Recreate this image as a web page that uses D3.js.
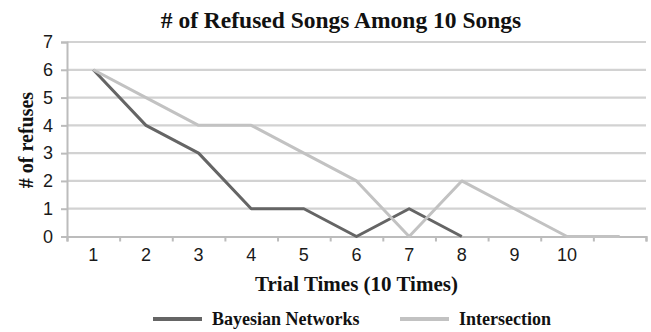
<!DOCTYPE html>
<html>
<head>
<meta charset="utf-8">
<script src="https://cdn.jsdelivr.net/npm/d3@7"></script>
<style>
  html, body { margin: 0; padding: 0; background: #fff; }
  svg { display: block; }
</style>
</head>
<body>
<svg id="chart" width="651" height="332"></svg>
<script>
// Trial categories (the last slot is an unlabeled trailing category)
const categories = ["1", "2", "3", "4", "5", "6", "7", "8", "9", "10", ""];
const yTicks = [0, 1, 2, 3, 4, 5, 6, 7];
const bayesian = [6, 4, 3, 1, 1, 0, 1, 0];
const intersection = [6, 5, 4, 4, 3, 2, 0, 2, 1, 0, 0];
const seriesNames = ["Bayesian Networks", "Intersection"];

const serif = "'Liberation Serif', 'Times New Roman', serif";
const sans = "'Liberation Sans', Arial, sans-serif";

const svg = d3.select("#chart");
const plotLeft = 67, plotRight = 646, plotTop = 42, plotBottom = 236.5;

const x = d3.scaleBand().domain(d3.range(categories.length)).range([plotLeft, plotRight]);
const xEdge = d3.scaleLinear().domain([0, categories.length]).range([plotLeft, plotRight]);
const y = d3.scaleLinear().domain([0, 7]).range([plotBottom, plotTop]);
const cx = i => x(i) + x.bandwidth() / 2;

// horizontal gridlines
svg.append("g")
  .selectAll("line")
  .data(yTicks.filter(d => d > 0))
  .join("line")
  .attr("x1", plotLeft).attr("x2", plotRight)
  .attr("y1", d => y(d)).attr("y2", d => y(d))
  .attr("stroke", "#d2d2d2").attr("stroke-width", 2.2);

// y axis
const yAxis = svg.append("g")
  .attr("transform", `translate(${plotLeft},0)`)
  .call(d3.axisLeft(y).tickValues(yTicks).tickSize(6).tickPadding(8).tickFormat(d3.format("d")));
yAxis.select(".domain").attr("stroke", "#bcbcbc").attr("stroke-width", 2);
yAxis.selectAll(".tick line").attr("stroke", "#bcbcbc").attr("stroke-width", 2);
yAxis.selectAll("text").attr("font-family", sans).attr("font-size", 18).attr("fill", "#1a1a1a");

// x axis: boundary ticks
const xTickAxis = svg.append("g")
  .attr("transform", `translate(0,${plotBottom})`)
  .call(d3.axisBottom(xEdge).tickValues(d3.range(categories.length + 1)).tickSize(5).tickFormat(""));
xTickAxis.select(".domain").attr("stroke", "#bcbcbc").attr("stroke-width", 2.2);
xTickAxis.selectAll(".tick line").attr("stroke", "#bcbcbc").attr("stroke-width", 2);

// x axis: category labels
const xLabelAxis = svg.append("g")
  .attr("transform", `translate(0,${plotBottom})`)
  .call(d3.axisBottom(x).tickSize(0).tickPadding(12).tickFormat(i => categories[i]));
xLabelAxis.select(".domain").remove();
xLabelAxis.selectAll("text").attr("font-family", sans).attr("font-size", 18).attr("fill", "#1a1a1a");

// series lines
const line = d3.line().x((d, i) => cx(i)).y(d => y(d));
svg.append("path").datum(bayesian)
  .attr("d", line).attr("fill", "none")
  .attr("stroke", "#656565").attr("stroke-width", 3).attr("stroke-linejoin", "round");
svg.append("path").datum(intersection)
  .attr("d", line).attr("fill", "none")
  .attr("stroke", "#c2c2c2").attr("stroke-width", 3).attr("stroke-linejoin", "round");

// titles
svg.append("text")
  .attr("x", 341).attr("y", 28).attr("text-anchor", "middle")
  .attr("font-family", serif).attr("font-weight", "bold").attr("font-size", 23.5)
  .attr("fill", "#111")
  .text("# of Refused Songs Among 10 Songs");

svg.append("text")
  .attr("x", (plotLeft + plotRight) / 2).attr("y", 291).attr("text-anchor", "middle")
  .attr("font-family", serif).attr("font-weight", "bold").attr("font-size", 21)
  .attr("fill", "#111")
  .text("Trial Times (10 Times)");

svg.append("text")
  .attr("transform", `translate(33,140) rotate(-90)`)
  .attr("text-anchor", "middle")
  .attr("font-family", serif).attr("font-weight", "bold").attr("font-size", 20)
  .attr("fill", "#111")
  .text("# of refuses");

// legend
const legend = [
  { name: seriesNames[0], color: "#656565", x0: 153 },
  { name: seriesNames[1], color: "#c2c2c2", x0: 400 }
];
const lg = svg.append("g").selectAll("g").data(legend).join("g")
  .attr("transform", d => `translate(${d.x0},319)`);
lg.append("line").attr("x1", 0).attr("x2", 49).attr("y1", 0).attr("y2", 0)
  .attr("stroke", d => d.color).attr("stroke-width", 4);
lg.append("text").attr("x", 59).attr("y", 6)
  .attr("font-family", serif).attr("font-weight", "bold").attr("font-size", 18)
  .attr("fill", "#111")
  .text(d => d.name);
</script>
</body>
</html>
